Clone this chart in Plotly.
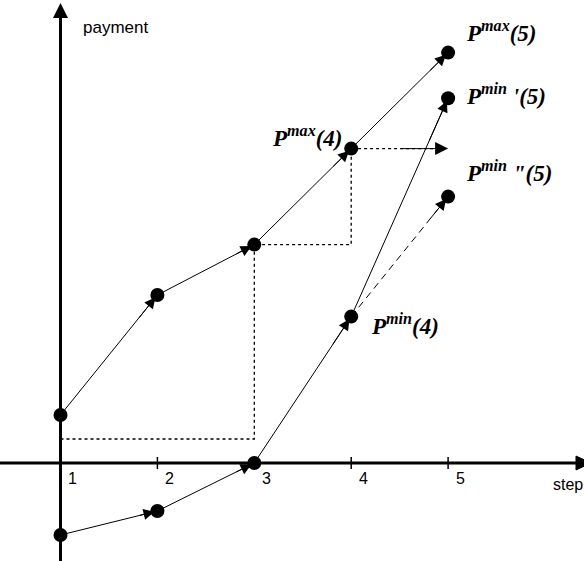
import plotly.graph_objects as go

# ---------------- data ----------------
steps = [1, 2, 3, 4, 5]
tick_labels = ["1", "2", "3", "4", "5"]
p_max = [2.0, 7.0, 9.1, 13.1, 17.1]          # P^max(1..5)
p_min = [-3.0, -2.0, 0.0, 6.1]               # P^min(1..4)
p_min5_prime = 15.2                          # P^min'(5)
p_min5_dprime = 11.1                         # P^min''(5)
threshold = 1.0                              # dotted level reached from step 1
x_label = "step"
y_label = "payment"

X_RANGE = [0.3756, 6.4025]
Y_RANGE = [-4.083, 19.292]
X_TIP = 6.475          # x-axis arrow tip (just past the right edge)

fig = go.Figure()

BLACK = "black"

# dotted construction path
dot_x = [steps[0], steps[2], steps[2], steps[3], steps[3], steps[4]]
dot_y = [threshold, threshold, p_max[2], p_max[2], p_max[3], p_max[3]]
fig.add_trace(go.Scatter(x=dot_x, y=dot_y, mode="lines",
                         line=dict(color=BLACK, width=1.3, dash="3px,3px"),
                         hoverinfo="skip", showlegend=False))

# dashed alternative to P^min''(5)
fig.add_trace(go.Scatter(x=[steps[3], steps[4]], y=[p_min[3], p_min5_dprime],
                         mode="lines",
                         line=dict(color=BLACK, width=1, dash="7px,5px"),
                         showlegend=False))

# P^max path
fig.add_trace(go.Scatter(x=steps, y=p_max, mode="lines+markers",
                         line=dict(color=BLACK, width=1),
                         marker=dict(size=14, color=BLACK),
                         showlegend=False))

# P^min path (to P^min'(5))
pmin_x = steps[:4] + [steps[4]]
pmin_y = p_min + [p_min5_prime]
fig.add_trace(go.Scatter(x=pmin_x, y=pmin_y, mode="lines+markers",
                         line=dict(color=BLACK, width=1),
                         marker=dict(size=14, color=BLACK),
                         showlegend=False))

# P^min''(5) point
fig.add_trace(go.Scatter(x=[steps[4]], y=[p_min5_dprime], mode="markers",
                         marker=dict(size=14, color=BLACK), showlegend=False))

# tick marks on the step axis
tx, ty = [], []
for s in steps[1:]:
    tx += [s, s, None]
    ty += [-0.25, 0.25, None]
fig.add_trace(go.Scatter(x=tx, y=ty, mode="lines",
                         line=dict(color=BLACK, width=1.5),
                         hoverinfo="skip", showlegend=False))

# x axis: thick line + arrowhead (clipped at the right edge like the reference)
head_len, head_half = 0.155, 0.29
fig.add_shape(type="line", xref="x", yref="y", x0=X_RANGE[0] - 0.1, y0=0,
              x1=X_TIP - head_len + 0.02, y1=0, line=dict(color=BLACK, width=3))
fig.add_shape(type="path", xref="x", yref="y",
              path=(f"M {X_TIP - head_len} {head_half} L {X_TIP} 0 "
                    f"L {X_TIP - head_len} {-head_half} Z"),
              fillcolor=BLACK, line=dict(color=BLACK, width=1))

annotations = []


def head(x0, y0, x1, y1, standoff=3, size=2.2, width=1, style=2, frac=0.2):
    annotations.append(dict(
        x=x1, y=y1, ax=x1 - (x1 - x0) * frac, ay=y1 - (y1 - y0) * frac,
        xref="x", yref="y", axref="x", ayref="y", text="",
        showarrow=True, arrowhead=style, arrowsize=size, arrowwidth=width,
        arrowcolor=BLACK, standoff=standoff))


for i in range(1, 5):
    head(steps[i - 1], p_max[i - 1], steps[i], p_max[i])
for i in range(1, 4):
    head(steps[i - 1], p_min[i - 1], steps[i], p_min[i])
head(steps[3], p_min[3], steps[4], p_min5_prime)
head(steps[3], p_min[3], steps[4], p_min5_dprime)
# dotted arrow
head(steps[3], p_max[3], steps[4], p_max[3], standoff=0, size=2.6, frac=0.5)

# y axis with arrow
annotations.append(dict(x=steps[0], y=19.17, ax=steps[0], ay=Y_RANGE[0] - 0.2,
                        xref="x", yref="y", axref="x", ayref="y", text="",
                        showarrow=True, arrowhead=2, arrowsize=1, arrowwidth=3,
                        arrowcolor=BLACK, standoff=0))

sans = dict(family="Liberation Sans, Arial, sans-serif", size=16, color=BLACK)
for s, lab in zip(steps, tick_labels):
    annotations.append(dict(x=s, y=0, xref="x", yref="y", text=lab, showarrow=False,
                            xanchor="center", yanchor="middle", xshift=12, yshift=-15,
                            font=sans))
annotations.append(dict(x=X_RANGE[1], y=0, xref="x", yref="y", text=x_label,
                        showarrow=False, xanchor="left", yanchor="middle",
                        xshift=-33, yshift=-21, font=sans))
annotations.append(dict(x=steps[0], y=Y_RANGE[1], xref="x", yref="y", text=y_label,
                        showarrow=False, xanchor="left", yanchor="middle",
                        xshift=20, yshift=-27, font=dict(sans, size=17)))

serif = dict(family="Liberation Serif, Times New Roman, serif", size=23, color=BLACK)


def plabel(x, y, txt, xanchor, xshift, yshift):
    annotations.append(dict(x=x, y=y, xref="x", yref="y", text=txt, showarrow=False,
                            xanchor=xanchor, yanchor="middle", xshift=xshift,
                            yshift=yshift, font=serif))


plabel(steps[4], p_max[4], "<b><i>P<sup>max</sup>(5)</i></b>", "left", 16, 21)
plabel(steps[4], p_min5_prime, "<b><i>P<sup>min</sup> '(5)</i></b>", "left", 16, 4)
plabel(steps[4], p_min5_dprime, "<b><i>P<sup>min</sup> \"(5)</i></b>", "left", 16, 25)
plabel(steps[3], p_max[3], "<b><i>P<sup>max</sup>(4)</i></b>", "right", -6, 12)
plabel(steps[3], p_min[3], "<b><i>P<sup>min</sup>(4)</i></b>", "left", 18, -8)

fig.update_layout(
    width=584, height=561,
    margin=dict(l=0, r=0, t=0, b=0),
    paper_bgcolor="white", plot_bgcolor="white",
    xaxis=dict(range=X_RANGE, visible=False, fixedrange=True),
    yaxis=dict(range=Y_RANGE, visible=False, fixedrange=True),
    annotations=annotations,
    showlegend=False,
)

fig.write_html("out.html", config={"displayModeBar": False},
               post_script="document.body.style.margin='0px';")
